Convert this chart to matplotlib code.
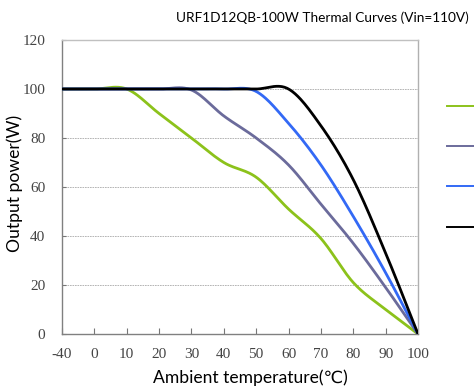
import numpy as np
import matplotlib
matplotlib.use("Agg")
import matplotlib.pyplot as plt
from matplotlib.lines import Line2D

# Category axis (ambient temperature, °C)
categories = ["-40", "0", "10", "20", "30", "40", "50", "60", "70", "80", "90", "100"]

# Output power (W) per derating curve
green_power = [100, 100, 100, 90, 80, 70, 64, 51, 39, 21, 10, 0]
purple_power = [100, 100, 100, 100, 99.6, 89, 80, 69, 53, 37, 19, 0]
blue_power = [100, 100, 100, 100, 100, 100, 99, 86, 69, 48, 25, 0]
black_power = [100, 100, 100, 100, 100, 100, 100, 100, 85, 63, 33, 0]

series_colors = ["#8cc21b", "#6b6b9b", "#3369f5", "#000000"]


def smooth(y, steps=24):
    """Catmull-Rom spline through evenly spaced category points."""
    y = np.asarray(y, dtype=float)
    n = len(y)
    m = np.empty(n)
    m[1:-1] = (y[2:] - y[:-2]) / 2.0
    m[0] = y[1] - y[0]
    m[-1] = y[-1] - y[-2]
    xs, ys = [], []
    for i in range(n - 1):
        s = np.linspace(0, 1, steps, endpoint=(i == n - 2))
        h00 = 2 * s**3 - 3 * s**2 + 1
        h10 = s**3 - 2 * s**2 + s
        h01 = -2 * s**3 + 3 * s**2
        h11 = s**3 - s**2
        xs.append(i + s)
        ys.append(h00 * y[i] + h10 * m[i] + h01 * y[i + 1] + h11 * m[i + 1])
    return np.concatenate(xs), np.concatenate(ys)


fig = plt.figure(figsize=(4.74, 3.89), dpi=100)
ax = fig.add_axes([62 / 474, 1 - 334 / 389, (418 - 62) / 474, (334 - 40) / 389])

x_idx = np.arange(len(categories))
handles = []
for vals, col in zip([green_power, purple_power, blue_power, black_power], series_colors):
    xs, ys = smooth(vals)
    ax.plot(xs, ys, color=col, lw=2.0, solid_capstyle="round", zorder=3)
    handles.append(Line2D([], [], color=col, lw=1.4))

ax.set_xlim(0, len(categories) - 1)
ax.set_ylim(0, 120)
ax.set_xticks(x_idx)
ax.set_xticklabels(categories)
ax.set_yticks(np.arange(0, 121, 20))

for lab in ax.get_xticklabels() + ax.get_yticklabels():
    lab.set_fontfamily("Liberation Serif")
    lab.set_fontsize(11)
    lab.set_color("#444444")

ax.tick_params(axis="x", direction="in", length=4, width=0.8, color="#777777", pad=10)
ax.tick_params(axis="y", direction="in", length=3, width=0.8, color="#777777", pad=12)

ax.yaxis.grid(True, color="#aaaaaa", linestyle=(0, (2, 1)), linewidth=0.6)
ax.set_axisbelow(True)

ax.spines["left"].set_color("#808080")
ax.spines["bottom"].set_color("#808080")
ax.spines["top"].set_color("#c0c0c0")
ax.spines["right"].set_color("#b0b0b0")
for sp in ax.spines.values():
    sp.set_linewidth(1.0)

label_family = ["Lato", "DejaVu Sans"]
fig.text(250 / 474, 1 - 378 / 389, "Ambient temperature(℃)", family=label_family,
         fontsize=12.6, ha="center", va="center")
fig.text(15 / 474, 1 - 183 / 389, "Output power(W)", family=label_family,
         fontsize=12.6, ha="center", va="center", rotation=90)
fig.text(176 / 474, 1 - 18 / 389, "URF1D12QB-100W Thermal Curves (Vin=110V)",
         family=label_family, fontsize=9.8, ha="left", va="center")

fig.legend(handles, ["", "", "", ""], loc="upper left",
           bbox_to_anchor=(434 / 474, 1 - 87 / 389), frameon=False,
           handlelength=3.0, labelspacing=1.9, fontsize=10)

fig.savefig("out.png", dpi=100)
